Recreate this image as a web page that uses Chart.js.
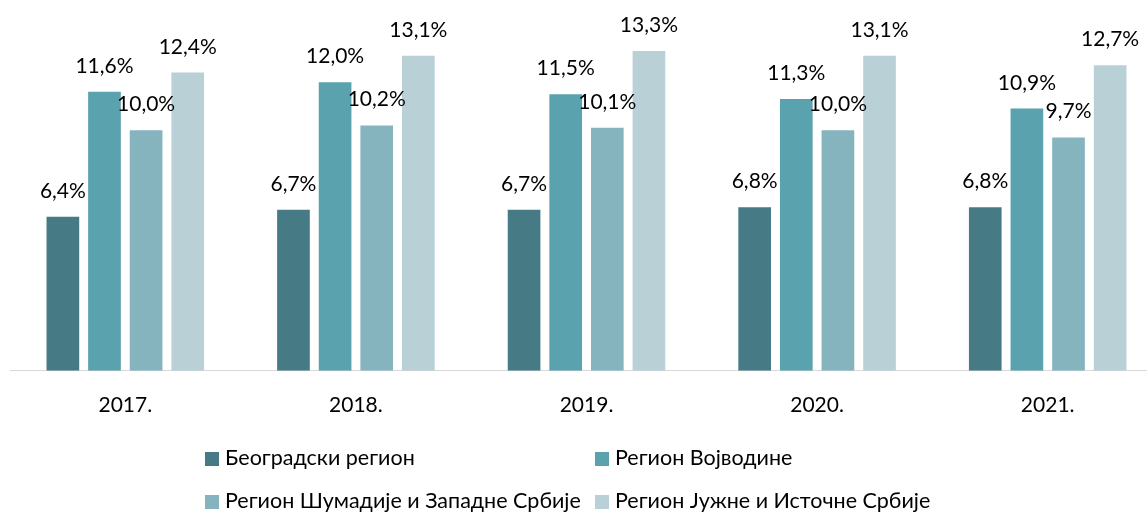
<!DOCTYPE html>
<html>
<head>
<meta charset="utf-8">
<script src="https://cdn.jsdelivr.net/npm/chart.js@4.4.1/dist/chart.umd.min.js"></script>
<style>
    html, body { margin: 0; padding: 0; background: #fff; overflow: hidden; }
    #wrap { position: relative; width: 1147px; height: 512px; overflow: hidden; }
    #chart { position: absolute; left: 0; top: 0; }
    #legend { position: absolute; left: 0; top: 0; width: 1147px; height: 512px; pointer-events: none;
        font-family: Lato, "Open Sans", sans-serif; font-size: 21.5px; color: #000; }
    .item { position: absolute; white-space: nowrap; line-height: 24px; }
    .box { display: inline-block; width: 14px; height: 14px; margin-right: 6px; vertical-align: -1px; }
</style>
</head>
<body>
<div id="wrap">
    <!-- plot runs a little past the right edge, like the original -->
    <canvas id="chart" width="1163" height="512"></canvas>
    <div id="legend"></div>
</div>
<script>
var years = ['2017.', '2018.', '2019.', '2020.', '2021.'];

var seriesNames = [
    'Београдски регион',
    'Регион Војводине',
    'Регион Шумадије и Западне Србије',
    'Регион Јужне и Источне Србије'
];

var beograd   = [6.4, 6.7, 6.7, 6.8, 6.8];
var vojvodina = [11.6, 12.0, 11.5, 11.3, 10.9];
var sumadija  = [10.0, 10.2, 10.1, 10.0, 9.7];
var jug       = [12.4, 13.1, 13.3, 13.1, 12.7];

var colors = ['#467b85', '#5aa2ad', '#85b4be', '#b9d0d7'];

// legend item places (left, top) in px
var legendPos = [[205, 445], [595, 445], [205, 488], [595, 488]];

/* value labels above bars, 6,4% style */
var barLabels = {
    id: 'barLabels',
    afterDatasetsDraw: function(chart) {
        var ctx = chart.ctx;
        ctx.save();
        ctx.font = '21px Lato, "Open Sans", sans-serif';
        ctx.fillStyle = '#000';
        ctx.textAlign = 'center';
        ctx.textBaseline = 'alphabetic';
        chart.data.datasets.forEach(function(ds, i) {
            var meta = chart.getDatasetMeta(i);
            meta.data.forEach(function(bar, j) {
                var txt = ds.data[j].toFixed(1).replace('.', ',') + '%';
                ctx.fillText(txt, bar.x, bar.y - 19);
            });
        });
        ctx.restore();
    }
};

var allData = [beograd, vojvodina, sumadija, jug];
var datasets = [];
for (var i = 0; i < allData.length; i++) {
    datasets.push({
        label: seriesNames[i],
        data: allData[i],
        backgroundColor: colors[i],
        borderWidth: 0,
        categoryPercentage: 0.722,
        barPercentage: 0.785
    });
}

var ctx = document.getElementById('chart').getContext('2d');
var chart = new Chart(ctx, {
    type: 'bar',
    data: { labels: years, datasets: datasets },
    options: {
        responsive: false,
        animation: false,
        layout: { padding: { left: 10, right: 0, top: 10, bottom: 72 } },
        plugins: {
            legend: { display: false },
            tooltip: { enabled: false }
        },
        scales: {
            x: {
                grid: { display: false, drawTicks: false },
                border: { display: true, color: '#d9d9d9', width: 1 },
                ticks: {
                    padding: 22,
                    color: '#000',
                    font: { family: 'Lato, "Open Sans", sans-serif', size: 21 }
                }
            },
            y: {
                display: false,
                min: 0,
                max: 15
            }
        }
    },
    plugins: [barLabels]
});

/* legend */
var legend = document.getElementById('legend');
for (var k = 0; k < seriesNames.length; k++) {
    var el = document.createElement('div');
    el.className = 'item';
    el.style.left = legendPos[k][0] + 'px';
    el.style.top = legendPos[k][1] + 'px';
    el.innerHTML = "<span class='box' style='background:" + colors[k] + "'></span>" + seriesNames[k];
    legend.appendChild(el);
}
</script>
</body>
</html>
